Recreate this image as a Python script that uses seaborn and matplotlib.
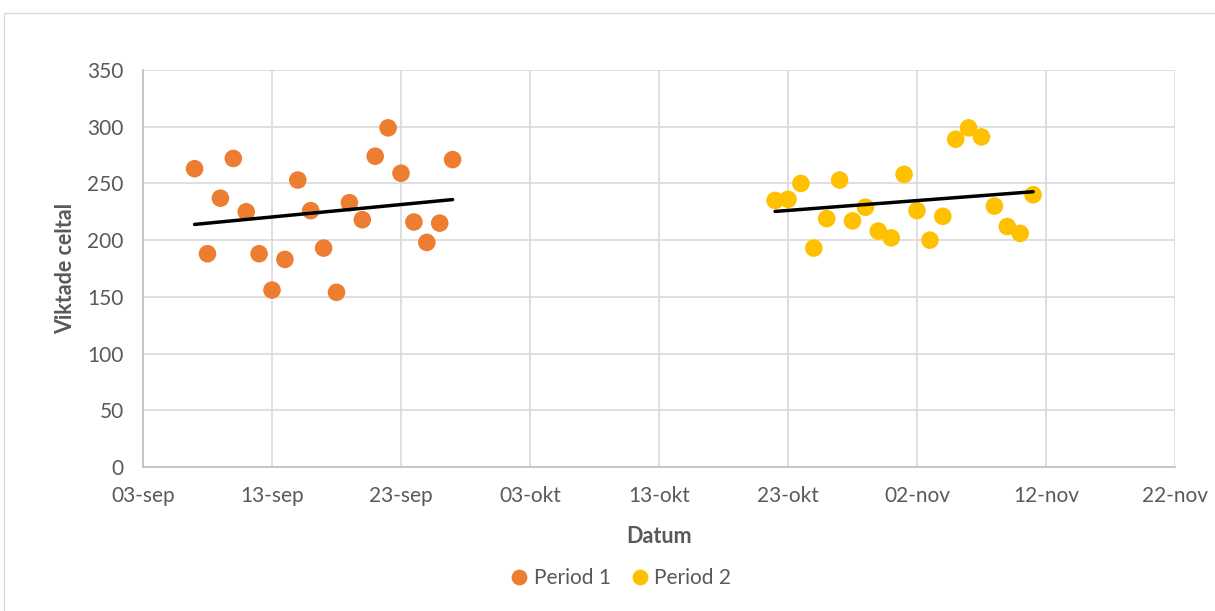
import numpy as np
import pandas as pd
import matplotlib
matplotlib.use("Agg")
import matplotlib.pyplot as plt
import matplotlib.dates as mdates
from matplotlib.patches import Rectangle
import seaborn as sns

# Measurement series
period1_start = "2023-09-07"
period1_values = [263, 188, 237, 272, 225, 188, 156, 183, 253, 226, 193, 154,
                  233, 218, 274, 299, 259, 216, 198, 215, 271]
period2_start = "2023-10-22"
period2_values = [235, 236, 250, 193, 219, 253, 217, 229, 208, 202, 258, 226,
                  200, 221, 289, 299, 291, 230, 212, 206, 240]
series_names = ["Period 1", "Period 2"]
colors = ["#ED7D31", "#FFC000"]

d1 = pd.date_range(period1_start, periods=len(period1_values), freq="D")
d2 = pd.date_range(period2_start, periods=len(period2_values), freq="D")
df = pd.concat([
    pd.DataFrame({"Datum": d1, "Viktade celtal": period1_values, "Serie": series_names[0]}),
    pd.DataFrame({"Datum": d2, "Viktade celtal": period2_values, "Serie": series_names[1]}),
], ignore_index=True)

sns.set_theme(style="white")
plt.rcParams["font.family"] = ["Lato", "DejaVu Sans"]

fig = plt.figure(figsize=(12.15, 6.11), dpi=100)
ax = fig.add_axes([143 / 1215, 1 - 467 / 611, (1175 - 143) / 1215, (467 - 70) / 611])

# Outer chart frame
fig.patches.append(Rectangle((4 / 1215, -0.01), 1.02, 1 - 13 / 611 + 0.01,
                             transform=fig.transFigure, fill=False,
                             edgecolor="#D9D9D9", linewidth=1.0, zorder=0))

sns.scatterplot(data=df, x="Datum", y="Viktade celtal", hue="Serie",
                palette=dict(zip(series_names, colors)), s=160,
                edgecolor="none", ax=ax, zorder=3)

# Linear trend lines per period
for name in series_names:
    sub = df[df["Serie"] == name]
    xn = mdates.date2num(sub["Datum"])
    k, m = np.polyfit(xn, sub["Viktade celtal"], 1)
    xs = np.array([xn.min(), xn.max()])
    ax.plot(mdates.num2date(xs), k * xs + m, color="black", linewidth=2.5, zorder=4)

ax.set_xlim(pd.Timestamp("2023-09-03"), pd.Timestamp("2023-11-22"))
ax.set_ylim(0, 350)
ax.set_yticks(np.arange(0, 351, 50))
xt = pd.date_range("2023-09-03", "2023-11-22", freq="10D")
ax.set_xticks(xt)
months = {9: "sep", 10: "okt", 11: "nov"}
ax.set_xticklabels([f"{d.day:02d}-{months[d.month]}" for d in xt])

ax.grid(True, color="#D9D9D9", linewidth=1.2)
ax.set_axisbelow(True)
for side in ["top", "right"]:
    ax.spines[side].set_visible(False)
for side in ["left", "bottom"]:
    ax.spines[side].set_color("#BFBFBF")
    ax.spines[side].set_linewidth(1.2)
ax.tick_params(axis="both", colors="#595959", labelsize=15, length=0)
ax.tick_params(axis="y", pad=14)
ax.tick_params(axis="x", pad=14)

ax.set_xlabel("Datum", fontsize=15.5, fontweight="bold", color="#595959", labelpad=14)
ax.set_ylabel("Viktade celtal", fontsize=15.5, fontweight="bold", color="#595959", labelpad=8)

# Move the series legend below the plot area
handles, labels = ax.get_legend_handles_labels()
ax.get_legend().remove()
fig.legend(handles, labels, loc="center", bbox_to_anchor=(621 / 1215, 1 - 578 / 611),
           ncol=2, frameon=False, fontsize=15, labelcolor="#595959",
           handlelength=0.8, handletextpad=0.3, columnspacing=1.0, markerscale=0.9)

fig.savefig("out.png", dpi=100)
